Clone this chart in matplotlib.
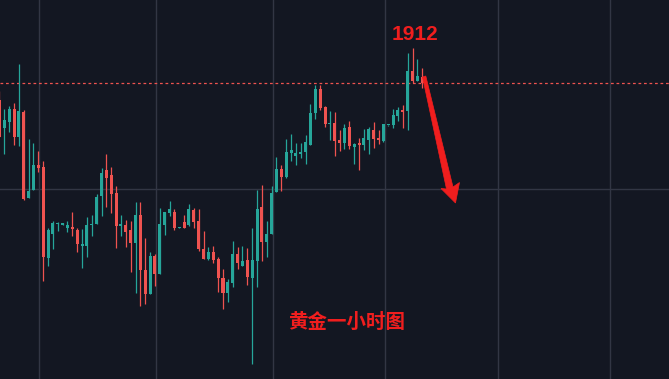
import numpy as np
import matplotlib
matplotlib.use("Agg")
import matplotlib.pyplot as plt
from matplotlib.patches import Polygon

# ---- data (hourly gold candles) ----
opens = [1908.9, 1906.1, 1906.7, 1908.0, 1905.2, 1907.7, 1899.1, 1899.9, 1902.4, 1902.2,
         1893.1, 1895.5, 1896.5, 1896.45, 1896.1, 1896.2, 1895.9, 1894.3, 1894.3, 1896.4,
         1896.5, 1899.3, 1901.9, 1901.4, 1899.6, 1896.3, 1896.4, 1895.9, 1894.6, 1897.4,
         1891.9, 1889.5, 1893.3, 1891.5, 1896.4, 1897.6, 1897.7, 1896.1, 1896.7, 1896.4,
         1897.9, 1896.8, 1894.0, 1893.0, 1893.7, 1893.0, 1891.1, 1889.6, 1890.6, 1893.5,
         1892.3, 1892.9, 1891.1, 1892.8, 1898.2, 1894.7, 1895.5, 1899.7, 1902.0, 1901.2,
         1903.6, 1903.3, 1903.5, 1903.7, 1904.4, 1907.6, 1910.0, 1908.2, 1906.5, 1906.6,
         1904.9, 1904.6, 1906.2, 1904.2, 1904.6, 1904.4, 1904.9, 1905.9, 1905.0, 1904.8,
         1906.4, 1906.4, 1907.3, 1907.9, 1907.8, 1911.8, 1910.8, 1911.2]
highs = [1909.8, 1908.0, 1908.3, 1908.6, 1912.5, 1907.9, 1905.0, 1904.6, 1903.8, 1902.8,
         1896.1, 1896.8, 1896.7, 1896.6, 1896.8, 1897.7, 1896.1, 1896.0, 1897.2, 1897.4,
         1899.5, 1902.1, 1903.5, 1902.2, 1900.3, 1897.4, 1896.9, 1896.8, 1898.7, 1898.7,
         1895.1, 1893.7, 1893.5, 1898.1, 1897.7, 1898.8, 1898.0, 1896.2, 1897.4, 1898.5,
         1898.1, 1898.0, 1895.8, 1894.2, 1894.3, 1893.2, 1892.0, 1891.0, 1894.8, 1894.2,
         1894.3, 1894.1, 1896.1, 1899.9, 1900.4, 1896.8, 1900.3, 1903.2, 1902.4, 1905.0,
         1905.5, 1904.6, 1904.6, 1905.4, 1908.5, 1910.4, 1910.4, 1908.3, 1907.8, 1907.7,
         1905.9, 1906.5, 1906.8, 1904.6, 1905.1, 1906.0, 1906.2, 1906.7, 1905.9, 1906.5,
         1906.45, 1908.0, 1908.2, 1908.4, 1913.6, 1914.1, 1913.0, 1912.1]
lows = [1905.2, 1903.5, 1905.7, 1904.4, 1904.3, 1898.9, 1899.1, 1899.9, 1901.7, 1890.8,
        1892.3, 1894.0, 1895.8, 1896.4, 1895.7, 1895.3, 1893.7, 1892.1, 1893.2, 1895.3,
        1896.5, 1897.3, 1898.2, 1897.6, 1894.1, 1895.3, 1894.2, 1891.7, 1889.6, 1888.3,
        1888.5, 1889.5, 1890.3, 1891.5, 1895.4, 1897.3, 1895.9, 1896.1, 1896.1, 1896.3,
        1896.1, 1893.8, 1893.0, 1892.9, 1892.6, 1889.7, 1888.0, 1888.7, 1890.2, 1892.0,
        1892.3, 1890.4, 1882.5, 1890.2, 1892.8, 1893.2, 1895.5, 1899.7, 1899.8, 1901.1,
        1902.8, 1902.4, 1903.1, 1902.5, 1904.4, 1907.0, 1907.9, 1906.2, 1904.9, 1903.3,
        1903.8, 1904.0, 1904.0, 1902.5, 1901.9, 1903.9, 1903.5, 1904.1, 1904.5, 1904.7,
        1906.35, 1906.1, 1906.8, 1906.1, 1905.9, 1910.6, 1910.8, 1910.1]
closes = [1905.2, 1906.9, 1908.0, 1905.2, 1907.8, 1899.0, 1899.8, 1902.4, 1902.1, 1893.2,
          1895.9, 1896.6, 1896.6, 1896.5, 1896.4, 1896.0, 1894.5, 1894.5, 1896.4, 1896.5,
          1899.2, 1901.6, 1901.1, 1899.5, 1896.3, 1896.5, 1895.7, 1894.6, 1897.4, 1891.9,
          1889.5, 1893.3, 1891.5, 1896.5, 1897.7, 1898.0, 1896.1, 1896.2, 1896.1, 1898.0,
          1896.7, 1894.0, 1893.0, 1893.7, 1892.9, 1891.1, 1889.6, 1890.7, 1893.5, 1892.6,
          1892.8, 1891.2, 1892.9, 1898.0, 1894.7, 1895.5, 1899.6, 1902.0, 1901.2, 1903.7,
          1903.9, 1903.6, 1903.7, 1904.7, 1907.6, 1910.0, 1908.1, 1906.5, 1906.6, 1904.8,
          1904.6, 1906.1, 1904.3, 1904.5, 1904.4, 1905.1, 1906.0, 1905.0, 1904.95, 1906.5,
          1906.45, 1907.4, 1907.9, 1907.7, 1911.8, 1910.8, 1911.3, 1910.6]
last_price = 1910.6
label_price = "1912"
label_title = "黄金一小时图"
day_breaks = [8.14, 32.25, 56.35, 79.4, 102.5, 125.6]
price_grid = [1880, 1900, 1920]

# ---- styling ----
BG = "#131722"
GRID = "#323644"
UP = "#26a69a"
DOWN = "#ef5350"
ANN = "#f01e1e"

W, H = 669, 379
fig = plt.figure(figsize=(W / 100, H / 100), dpi=100, facecolor=BG)
ax = fig.add_axes([0, 0, 1, 1])
ax.set_facecolor(BG)

o = np.array(opens); h = np.array(highs); l = np.array(lows); c = np.array(closes)
x = np.arange(len(o))
up = c >= o
cols = np.where(up, UP, DOWN)

for xv in day_breaks:
    ax.axvline(xv, color=GRID, lw=1.0, zorder=0)
for yv in price_grid:
    ax.axhline(yv, color=GRID, lw=1.0, zorder=0)

ax.vlines(x, l, h, colors=cols, lw=0.9, zorder=2)
bottom = np.minimum(o, c)
height = np.maximum(np.abs(c - o), 0.12)
ax.bar(x, height, bottom=bottom, width=0.62, color=cols, edgecolor=cols,
       linewidth=0, zorder=3)

ax.axhline(last_price, color=DOWN, lw=0.9, ls=(0, (2.2, 2.2)), zorder=1)

ax.set_xlim(0.115, 137.77)
ax.set_ylim(1881.0, 1918.9)
ax.axis("off")

# annotations
fig.text(415 / W, 1 - 35 / H, label_price, color=ANN, fontsize=15,
         fontweight="bold", family=["Liberation Sans", "DejaVu Sans"],
         ha="center", va="center")
fig.text(347 / W, 1 - 322 / H, label_title, color=ANN, fontsize=14,
         fontweight="bold", family=["Noto Sans CJK SC", "DejaVu Sans"],
         ha="center", va="center")

arrow_px = [(422.5, 77), (425.8, 76), (453, 187), (459.5, 182.5),
            (455.5, 203), (441, 188.5), (446.5, 189)]
arrow = Polygon([(px / W, 1 - py / H) for px, py in arrow_px], closed=True,
                transform=fig.transFigure, facecolor=ANN, edgecolor=ANN,
                lw=0.5, zorder=10)
fig.patches.append(arrow)

fig.savefig("out.png", dpi=100, facecolor=BG)
